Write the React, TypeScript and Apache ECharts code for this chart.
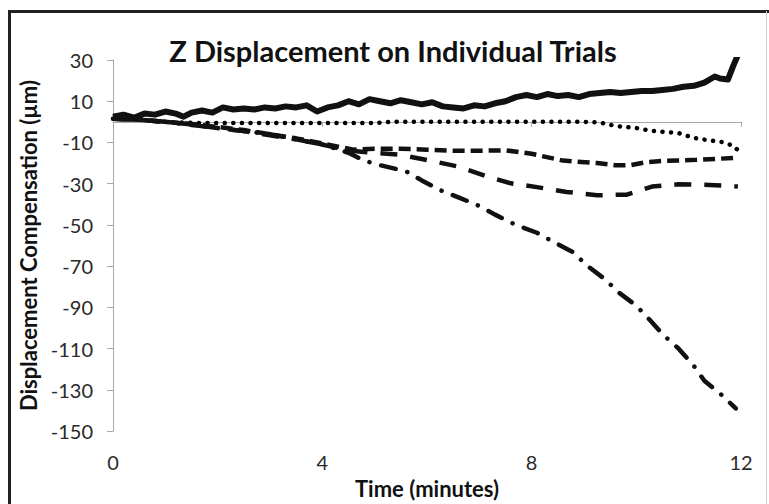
import React, { useEffect, useRef } from "react";
import * as echarts from "echarts";

const titleText = "Z Displacement on Individual Trials";
const xName = "Time (minutes)";
const yName = "Displacement Compensation (µm)";

const solidT = [0, 0.2, 0.4, 0.6, 0.8, 1.0, 1.2, 1.35, 1.5, 1.7, 1.9, 2.1, 2.3, 2.5, 2.7, 2.9, 3.1, 3.3, 3.5, 3.7, 3.9, 4.1, 4.3, 4.5, 4.7, 4.9, 5.1, 5.3, 5.5, 5.7, 5.9, 6.1, 6.3, 6.5, 6.7, 6.9, 7.1, 7.3, 7.5, 7.7, 7.9, 8.1, 8.3, 8.5, 8.7, 8.9, 9.1, 9.3, 9.5, 9.7, 9.9, 10.1, 10.3, 10.5, 10.7, 10.9, 11.1, 11.3, 11.5, 11.6, 11.75, 11.85, 11.95, 12];
const solidV = [2.5, 3.5, 2, 4, 3.5, 5, 4, 2.5, 4.5, 5.5, 4.5, 7, 6, 6.5, 6, 7, 6.5, 7.5, 7, 8, 5, 7, 8, 10, 8.5, 11, 10, 9, 10.5, 9.5, 8.5, 9.5, 7.5, 7, 6.5, 8, 7.5, 9, 10, 12, 13, 12, 13.5, 12.5, 13, 12, 13.5, 14, 14.5, 14, 14.5, 15, 15, 15.5, 16, 17, 17.5, 19, 22, 21, 20.5, 27, 33, 34];

const dottedT = [0, 0.5, 1, 1.5, 2, 3, 4, 5, 5.3, 6, 7, 8, 9, 9.3, 9.6, 10, 10.3, 10.8, 11.1, 11.4, 11.65, 11.85, 11.95];
const dottedV = [1.5, 1, 0, -0.5, -0.6, -0.6, -0.6, -0.6, 0, 0, 0, 0, 0, -0.3, -2, -3, -4.4, -5.4, -7.8, -9, -9.8, -11.6, -14];

const dashAT = [0, 0.5, 1, 1.5, 2, 2.5, 3, 3.5, 4, 4.3, 4.6, 5, 5.5, 6, 6.5, 7, 7.5, 8, 8.6, 9.25, 9.6, 9.9, 10.2, 10.5, 11.15, 11.9];
const dashAV = [1.5, 1, 0, -1, -2.5, -4, -6, -8, -10.5, -12, -13.5, -13, -13, -13.5, -14, -14, -13.8, -15.5, -18.8, -20, -21, -21, -19.5, -19, -18.4, -17.5];

const dashBT = [0, 0.5, 1, 1.5, 2, 2.5, 3, 3.5, 4, 4.5, 5, 5.5, 6.06, 6.6, 7.15, 7.6, 8.16, 8.67, 9.25, 9.82, 10.3, 10.8, 11.4, 11.94];
const dashBV = [1.5, 1, 0, -1.2, -3, -4.5, -6.5, -8.5, -11, -14, -15, -16, -18.8, -21.7, -26.5, -29.8, -31.9, -34, -35.6, -35.3, -31.4, -30.3, -30.6, -31.4];

const dashDotT = [0, 0.5, 1, 1.5, 2, 2.5, 3, 3.5, 4, 4.5, 4.8, 5.1, 5.6, 5.9, 6.3, 6.6, 7, 7.3, 7.7, 8.1, 8.4, 8.8, 9.05, 9.4, 9.65, 10, 10.25, 10.5, 10.8, 11.1, 11.3, 11.6, 11.9];
const dashDotV = [1.5, 1, 0, -1.5, -3, -4.5, -6, -8.5, -11, -15, -18.8, -21, -24, -28.4, -33.7, -36.6, -40.8, -45, -50, -53.8, -58, -63.3, -69.6, -76.3, -82.5, -89.2, -95.9, -103, -109.8, -118.4, -125.6, -131.8, -139];

const xTicks = { min: 0, max: 12, interval: 4 };
const yTicks = { min: -150, max: 30, interval: 20 };

const pairs = (t: number[], v: number[]) => t.map((x, i) => [x, v[i]]);

export default function App() {
  const ref = useRef<HTMLDivElement>(null);
  useEffect(() => {
    document.body.style.margin = "0";
    const chart = echarts.init(ref.current!, null, { renderer: "svg" });
    const font = "Lato, 'Open Sans', sans-serif";
    const base = { type: "line", showSymbol: false, symbol: "none", silent: true };
    chart.setOption({
      animation: false,
      backgroundColor: "#ffffff",
      grid: { left: 113, right: 28, top: 60, bottom: 68, containLabel: false },
      graphic: [
        { type: "line", shape: { x1: 9.5, y1: 10, x2: 9.5, y2: 504 }, style: { stroke: "#222", lineWidth: 3 } },
        { type: "line", shape: { x1: 8, y1: 11.5, x2: 769, y2: 11.5 }, style: { stroke: "#222", lineWidth: 3 } },
        { type: "line", shape: { x1: 766.5, y1: 11, x2: 766.5, y2: 504 }, style: { stroke: "#cfcfcf", lineWidth: 1 } },
        {
          type: "text",
          x: 393,
          y: 50,
          style: {
            text: titleText,
            fontSize: 29,
            fontWeight: "bold",
            fontFamily: font,
            fill: "#111",
            align: "center",
            verticalAlign: "middle",
            textAlign: "center",
            textVerticalAlign: "middle",
          },
        },
      ],
      xAxis: {
        type: "value",
        min: xTicks.min,
        max: xTicks.max,
        interval: xTicks.interval,
        name: xName,
        nameLocation: "middle",
        nameGap: 44,
        nameTextStyle: { fontSize: 22, fontWeight: "bold", fontFamily: font, color: "#111" },
        axisLine: { show: true, lineStyle: { color: "#a8a8a8", width: 1 } },
        axisTick: { show: true, length: 5, lineStyle: { color: "#a8a8a8" } },
        axisLabel: { fontSize: 20, fontFamily: font, color: "#2a2a2a", margin: 21 },
        splitLine: { show: false },
      },
      yAxis: {
        type: "value",
        min: yTicks.min,
        max: yTicks.max,
        interval: yTicks.interval,
        name: yName,
        nameLocation: "middle",
        nameGap: 72,
        nameRotate: 90,
        nameTextStyle: { fontSize: 22, fontWeight: "bold", fontFamily: font, color: "#111" },
        axisLine: { show: true, lineStyle: { color: "#a8a8a8", width: 1 } },
        axisTick: { show: true, length: 6, lineStyle: { color: "#a8a8a8" } },
        axisLabel: { fontSize: 20, fontFamily: font, color: "#2a2a2a", margin: 20 },
        splitLine: { show: false },
      },
      series: [
        { ...base, name: "dotted", data: pairs(dottedT, dottedV), lineStyle: { color: "#000", width: 4.5, type: [0.1, 8.5], cap: "round" } },
        { ...base, name: "dashA", data: pairs(dashAT, dashAV), lineStyle: { color: "#111", width: 4.5, type: [12, 6], cap: "butt" } },
        { ...base, name: "dashB", data: pairs(dashBT, dashBV), lineStyle: { color: "#111", width: 4.5, type: [17, 13], cap: "butt" } },
        { ...base, name: "dashDot", data: pairs(dashDotT, dashDotV), lineStyle: { color: "#111", width: 4.5, type: [15, 12, 0.1, 12], cap: "round" } },
        { ...base, name: "solid", data: pairs(solidT, solidV), lineStyle: { color: "#111", width: 6, type: "solid", join: "round" } },
      ],
    });
    return () => chart.dispose();
  }, []);
  return <div ref={ref} style={{ width: 769, height: 504 }} />;
}
